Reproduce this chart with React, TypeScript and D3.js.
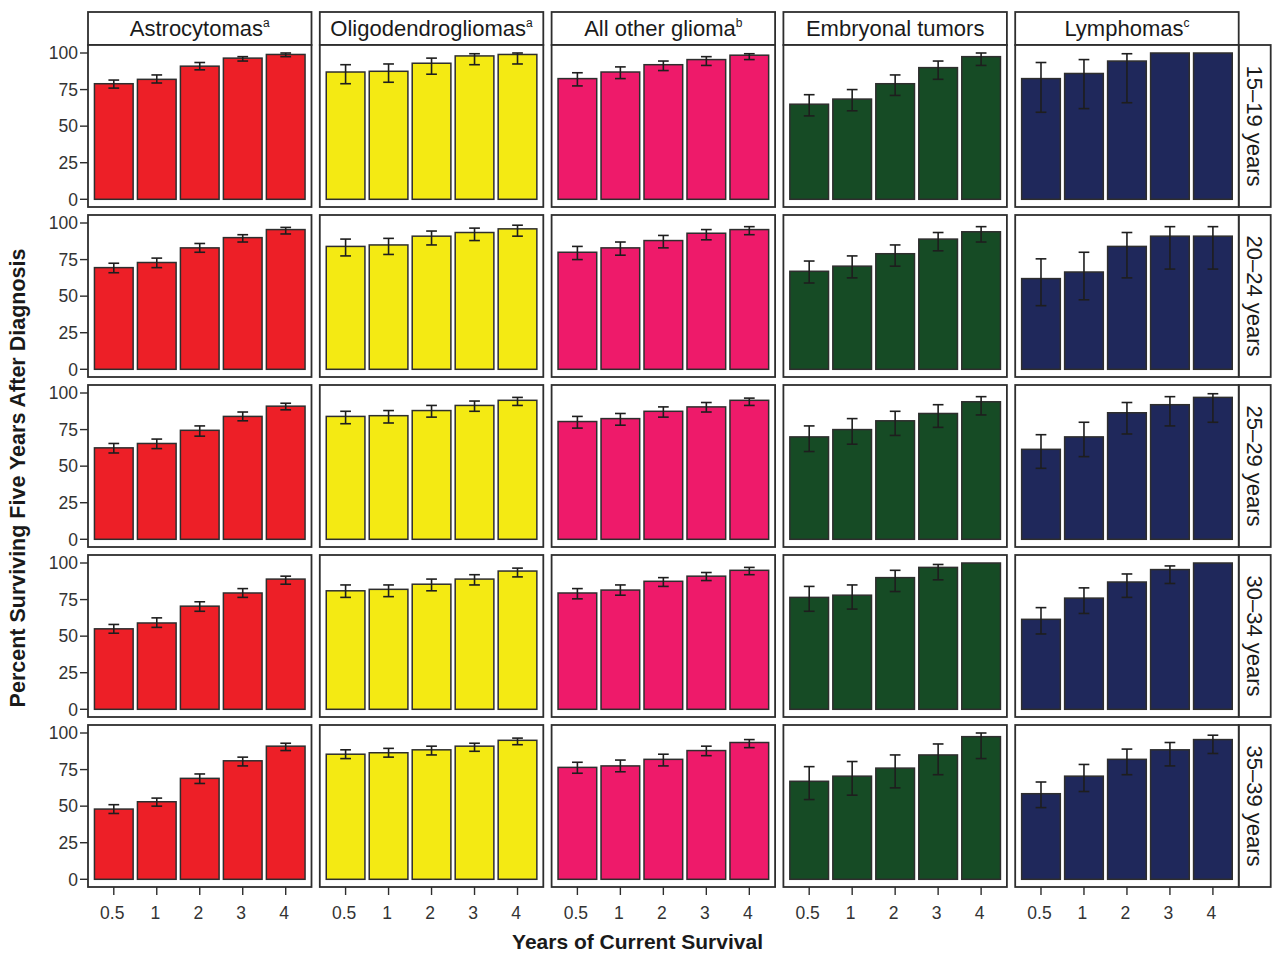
import React from "react";
import * as d3 from "d3";

const histologies = ["Astrocytomas", "Oligodendrogliomas", "All other glioma", "Embryonal tumors", "Lymphomas"];
const superscripts = ["a", "a", "b", "", "c"];
const ageGroups = ["15\u201319 years", "20\u201324 years", "25\u201329 years", "30\u201334 years", "35\u201339 years"];
const survivalYears = ["0.5", "1", "2", "3", "4"];
const yTicks = [0, 25, 50, 75, 100];
const fills = ["#ED1F27", "#F4EA13", "#EE1A6A", "#164B25", "#1F285B"];

type Err = [number, number] | null;

// values per age group (rows) x survival year (cols)
const astroVal = [
  [79, 82, 91, 96.5, 99],
  [69.5, 73, 83, 90, 95.5],
  [62.5, 65.5, 74.5, 84, 91],
  [55, 59, 70.5, 79.5, 89],
  [48, 53, 69, 81, 91],
];
const astroErr: Err[][] = [
  [[76, 81.5], [79.5, 85], [88.5, 93.5], [94.5, 97.5], [97.5, 100]],
  [[66, 72.5], [69.5, 76], [80, 86], [87, 92], [92.5, 97]],
  [[59, 65.5], [62, 68.5], [70.5, 77.5], [81, 87], [88.5, 93]],
  [[52, 58], [56, 62.5], [67, 73.5], [76.5, 82.5], [85.5, 91]],
  [[45, 51], [50, 55.5], [65.5, 72], [77.5, 83.5], [88, 93]],
];
const oligoVal = [
  [87, 87.5, 93, 98, 99],
  [84, 85, 91, 93.5, 96],
  [84, 84.5, 88, 91.5, 95],
  [81, 82, 85.5, 89, 94.5],
  [85.5, 86.5, 88.5, 91, 95],
];
const oligoErr: Err[][] = [
  [[79, 92], [80, 92.5], [85.5, 96.5], [92, 99.5], [92.5, 100]],
  [[77.5, 89], [78.5, 89.5], [85, 94.5], [88, 96.5], [91, 98.5]],
  [[79, 87.5], [79.5, 88], [83.5, 91.5], [87.5, 94.5], [91.5, 97]],
  [[76.5, 85], [77, 85], [81, 89], [85, 92], [90.5, 96.5]],
  [[82.5, 88.5], [83.5, 89.5], [85, 91], [87.5, 93], [92, 96.5]],
];
const otherVal = [
  [82.5, 87, 92, 95.5, 98.5],
  [80, 83, 88, 93, 95.5],
  [80.5, 82.5, 87.5, 90.5, 95],
  [79.5, 81.5, 87.5, 91, 95],
  [76.5, 77.5, 82, 88, 93.5],
];
const otherErr: Err[][] = [
  [[77.5, 86.5], [82.5, 90.5], [88, 94.5], [91.5, 97.5], [95.5, 99.5]],
  [[75, 84], [78, 87], [83, 91.5], [88.5, 95.5], [92, 97.5]],
  [[76, 84], [78, 86], [83.5, 90.5], [87, 93.5], [91.5, 96.5]],
  [[75.5, 82.5], [78, 85], [84, 90], [88, 93.5], [92, 97]],
  [[72.5, 80], [73.5, 81.5], [77.5, 85.5], [84.5, 91], [90, 95.5]],
];
const embryoVal = [
  [65, 68.5, 79, 90, 97.5],
  [67, 70.5, 79, 89, 94],
  [70, 75, 81, 86, 94],
  [76.5, 78, 90, 97, 100],
  [67, 70.5, 76, 85, 97.5],
];
const embryoErr: Err[][] = [
  [[57, 71.5], [60.5, 75], [71, 85], [82, 94.5], [91.5, 100]],
  [[59, 74], [62.5, 77.5], [70.5, 85], [81, 93.5], [87, 97.5]],
  [[60, 77.5], [65, 82.5], [71, 87.5], [76.5, 92], [85, 97.5]],
  [[67, 84], [68.5, 85], [80.5, 95], [88.5, 99], null],
  [[54.5, 77], [57.5, 80.5], [62.5, 85], [71.5, 92.5], [82.5, 100]],
];
const lymphVal = [
  [82.5, 86, 94.5, 100, 100],
  [62, 66.5, 84, 91, 91],
  [61.5, 70, 86.5, 92, 97],
  [61.5, 76, 87, 95.5, 100],
  [58.5, 70.5, 82, 88.5, 95.5],
];
const lymphErr: Err[][] = [
  [[59.5, 93.5], [62, 95.5], [66, 99.5], null, null],
  [[43.5, 75.5], [47.5, 80], [62.5, 93.5], [68.5, 97.5], [68.5, 97.5]],
  [[48.5, 71.5], [56.5, 80], [72, 93.5], [77.5, 97.5], [80, 99.5]],
  [[51.5, 69.5], [65.5, 83], [76.5, 92.5], [86, 98], null],
  [[49, 66.5], [60, 78.5], [71.5, 89], [77.5, 93.5], [86, 98.5]],
];

const allVals = [astroVal, oligoVal, otherVal, embryoVal, lymphVal];
const allErrs = [astroErr, oligoErr, otherErr, embryoErr, lymphErr];

const W = 1275;
const H = 956;
const FONT = "'Liberation Sans', Arial, Helvetica, sans-serif";
const panelW = 223.5;
const panelH = 162;
const colStep = 231.8;
const rowStep = 170;
const left0 = 88;
const top0 = 45;
const stripH = 33;
const rightStripW = 32;
const dark = "#2e2e2e";

export default function App() {
  const colLeft = (c: number) => left0 + c * colStep;
  const rowTop = (r: number) => top0 + r * rowStep;

  const panels: React.ReactNode[] = [];
  for (let r = 0; r < ageGroups.length; r++) {
    const top = rowTop(r);
    const y = d3.scaleLinear().domain([0, 100]).range([top + 154.3, top + 8]);
    for (let c = 0; c < histologies.length; c++) {
      const left = colLeft(c);
      const x = d3
        .scaleBand<string>()
        .domain(survivalYears)
        .range([left, left + panelW])
        .paddingInner(0.1)
        .paddingOuter(0.15);
      const bw = x.bandwidth();
      const capW = x.step() * 0.25;
      panels.push(
        <g key={`p-${r}-${c}`}>
          <rect x={left} y={top} width={panelW} height={panelH} fill="#fff" />
          {survivalYears.map((yr, i) => {
            const v = allVals[c][r][i];
            return (
              <rect
                key={`b${i}`}
                x={x(yr)!}
                y={y(v)}
                width={bw}
                height={y(0) - y(v)}
                fill={fills[c]}
                stroke={dark}
                strokeWidth={1.5}
              />
            );
          })}
          {survivalYears.map((yr, i) => {
            const e = allErrs[c][r][i];
            if (!e) return null;
            const cx = x(yr)! + bw / 2;
            return (
              <g key={`e${i}`} stroke="#1e1e1e" strokeWidth={1.6}>
                <line x1={cx} x2={cx} y1={y(e[0])} y2={y(e[1])} />
                <line x1={cx - capW / 2} x2={cx + capW / 2} y1={y(e[0])} y2={y(e[0])} />
                <line x1={cx - capW / 2} x2={cx + capW / 2} y1={y(e[1])} y2={y(e[1])} />
              </g>
            );
          })}
          <rect x={left} y={top} width={panelW} height={panelH} fill="none" stroke={dark} strokeWidth={1.8} />
          {r === ageGroups.length - 1 &&
            survivalYears.map((yr) => {
              const cx = x(yr)! + bw / 2;
              return (
                <g key={`xt${yr}`}>
                  <line x1={cx} x2={cx} y1={top + panelH} y2={top + panelH + 8} stroke={dark} strokeWidth={1.4} />
                  <text x={cx - 1.5} y={top + panelH + 32} textAnchor="middle" fontSize={17.5} fill="#333" fontFamily={FONT}>
                    {yr}
                  </text>
                </g>
              );
            })}
          {c === 0 &&
            yTicks.map((t) => (
              <g key={`yt${t}`}>
                <line x1={left - 8} x2={left} y1={y(t)} y2={y(t)} stroke={dark} strokeWidth={1.4} />
                <text x={left - 10} y={y(t)} dy="0.36em" textAnchor="end" fontSize={17.5} fill="#333" fontFamily={FONT}>
                  {t}
                </text>
              </g>
            ))}
        </g>
      );
    }
  }

  return (
    <svg width={W} height={H} style={{ position: "absolute", left: 0, top: 0, background: "#fff" }} fontFamily={FONT}>
      <rect x={0} y={0} width={W} height={H} fill="#fff" />
      {histologies.map((h, c) => (
        <g key={`s${c}`}>
          <rect x={colLeft(c)} y={top0 - stripH} width={panelW} height={stripH} fill="#fff" stroke={dark} strokeWidth={1.8} />
          <text x={colLeft(c) + panelW / 2} y={top0 - stripH / 2} dy="0.36em" textAnchor="middle" fontSize={22} fill="#1a1a1a">
            {h}
            {superscripts[c] && (
              <tspan fontSize={12} dy="-0.75em">
                {superscripts[c]}
              </tspan>
            )}
          </text>
        </g>
      ))}
      {ageGroups.map((a, r) => {
        const cx = colLeft(4) + panelW + rightStripW / 2;
        const cy = rowTop(r) + panelH / 2;
        return (
          <g key={`rs${r}`}>
            <rect x={colLeft(4) + panelW} y={rowTop(r)} width={rightStripW} height={panelH} fill="#fff" stroke={dark} strokeWidth={1.8} />
            <text
              x={cx}
              y={cy}
              dy="0.36em"
              textAnchor="middle"
              fontSize={22}
              fill="#1a1a1a"
              transform={`rotate(90, ${cx}, ${cy})`}
            >
              {a}
            </text>
          </g>
        );
      })}
      {panels}
      <text
        x={0}
        y={0}
        transform={`translate(25, ${H / 2}) rotate(-90)`}
        textAnchor="middle"
        fontSize={21.5}
        fontWeight="bold"
        fill="#1a1a1a"
      >
        Percent Surviving Five Years After Diagnosis
      </text>
      <text x={W / 2} y={949} textAnchor="middle" fontSize={21} fontWeight="bold" fill="#1a1a1a">
        Years of Current Survival
      </text>
    </svg>
  );
}
